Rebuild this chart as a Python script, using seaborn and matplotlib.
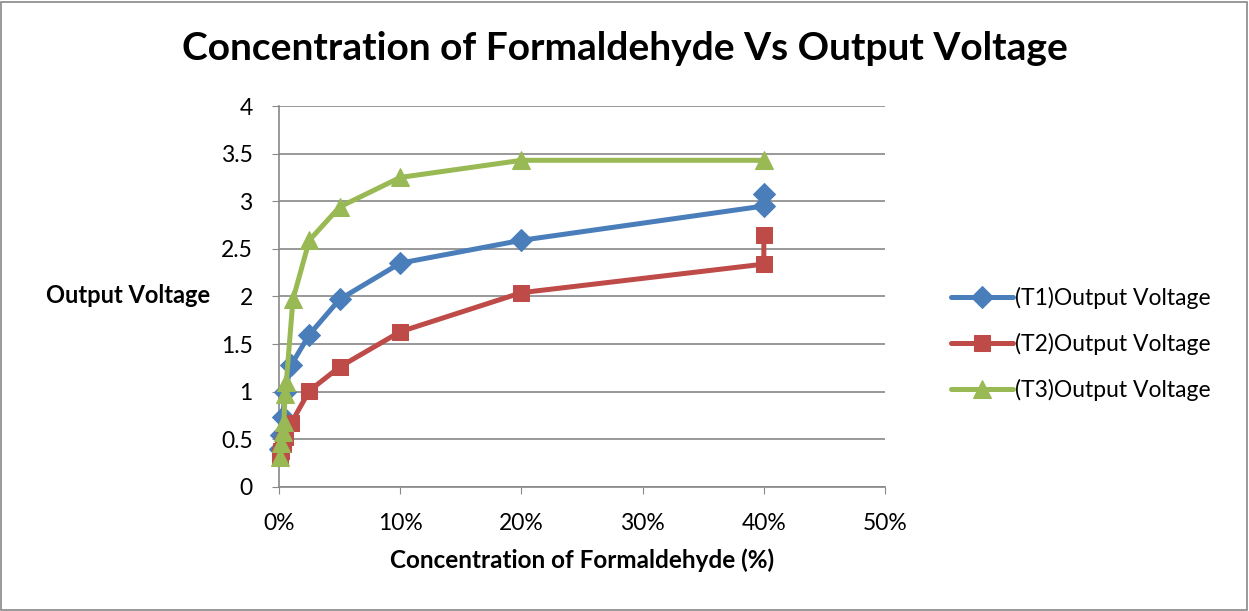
import numpy as np
import pandas as pd
import matplotlib
matplotlib.use("Agg")
import matplotlib.pyplot as plt
import seaborn as sns
from matplotlib.ticker import PercentFormatter

# concentration (%) and output voltages
conc = [0.1, 0.2, 0.3, 0.5, 1, 2.5, 5, 10, 20, 40, 40]
t1 = [0.40, 0.55, 0.73, 1.00, 1.28, 1.60, 1.97, 2.35, 2.59, 2.95, 3.08]
t2 = [0.33, 0.38, 0.45, 0.52, 0.67, 1.01, 1.26, 1.63, 2.04, 2.34, 2.65]
t3_conc = [0.1, 0.2, 0.3, 0.4, 0.5, 0.6, 1.15, 2.5, 5, 10, 20, 40]
t3 = [0.31, 0.46, 0.58, 0.68, 0.98, 1.10, 1.97, 2.59, 2.94, 3.25, 3.43, 3.43]

names = ["(T1)Output Voltage", "(T2)Output Voltage", "(T3)Output Voltage"]
colors = ["#4A7EBB", "#BE4B48", "#98B954"]
markers = ["D", "s", "^"]
sizes = [11, 12, 13]

sns.set_style("white")
plt.rcParams["font.family"] = ["Lato", "DejaVu Sans"]
plt.rcParams["text.color"] = "black"
plt.rcParams["axes.labelcolor"] = "black"
plt.rcParams["xtick.labelcolor"] = "black"
plt.rcParams["ytick.labelcolor"] = "black"

fig = plt.figure(figsize=(12.49, 6.11), dpi=100)
ax = fig.add_axes([0.2234, 0.203, 0.4852, 0.6235])

series = [(conc, t1), (conc, t2), (t3_conc, t3)]
for (xs, ys), name, c, m, s in zip(series, names, colors, markers, sizes):
    df = pd.DataFrame({"x": np.array(xs) / 100.0, "y": ys})
    sns.lineplot(data=df, x="x", y="y", sort=False, estimator=None, ax=ax,
                 color=c, lw=3.6, marker=m, markersize=s, markeredgecolor=c,
                 label=name, clip_on=False, zorder=3)

ax.set_xlim(0, 0.5)
ax.set_ylim(0, 4)
ax.set_xticks(np.arange(0, 0.51, 0.1))
ax.set_yticks(np.arange(0, 4.01, 0.5))
ax.set_yticklabels(["0", "0.5", "1", "1.5", "2", "2.5", "3", "3.5", "4"])
ax.xaxis.set_major_formatter(PercentFormatter(1.0, decimals=0))
ax.grid(axis="y", color="#888888", lw=1.2)
ax.grid(axis="x", visible=False)
for sp in ["top", "right"]:
    ax.spines[sp].set_visible(False)
for sp in ["left", "bottom"]:
    ax.spines[sp].set_color("#888888")
    ax.spines[sp].set_linewidth(1.2)
ax.tick_params(axis="both", labelsize=16.5, length=5, color="#888888",
               direction="out", bottom=True, left=True, pad=14)
ax.set_xlabel("Concentration of Formaldehyde (%)", fontsize=17.5, fontweight="bold", labelpad=10)
ax.set_ylabel("Output Voltage", fontsize=17, fontweight="bold", rotation=0,
              ha="right", va="center")
ax.yaxis.set_label_coords(-0.114, 0.503)
fig.text(0.5, 0.92, "Concentration of Formaldehyde Vs Output Voltage", fontsize=28,
         fontweight="bold", ha="center", va="center")

ax.legend(loc="center left", bbox_to_anchor=(1.075, 0.375), frameon=False,
          fontsize=16.5, handlelength=2.7, labelspacing=1.05, handletextpad=0.1)

fig.patches.append(plt.Rectangle((0.001, 0.002), 0.997, 0.995, transform=fig.transFigure,
                                 fill=False, edgecolor="#888888", lw=1.2))
fig.savefig("out.png", dpi=100)
